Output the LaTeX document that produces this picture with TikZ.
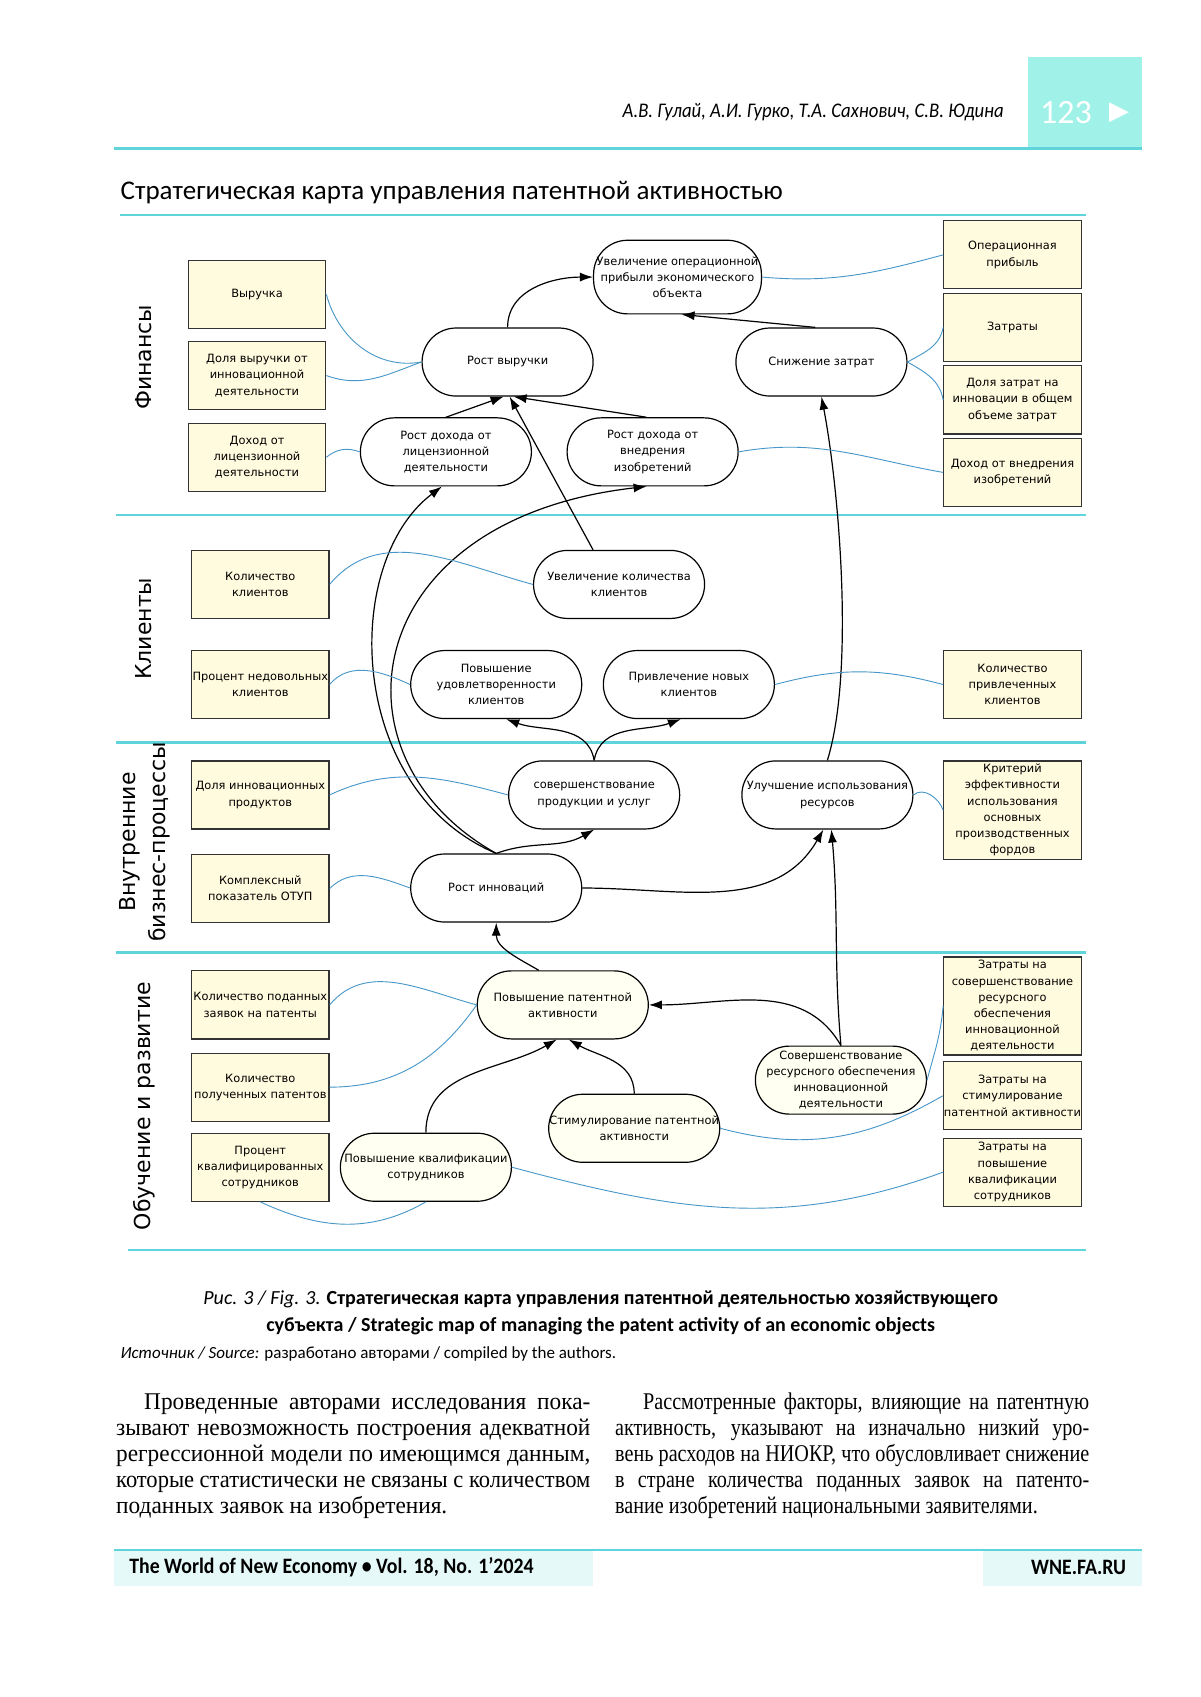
\documentclass[tikz,border=0pt]{standalone}
\usepackage{fontspec}
\usepackage{graphicx}
\setmainfont{Liberation Serif}
\newfontfamily\dejavu{DejaVu Sans}
\newfontfamily\carlito{Carlito}
\newfontfamily\carlitonarrow{Carlito}[FakeStretch=0.9]
\newfontfamily\bodyserif{Liberation Serif}[FakeStretch=0.84]
\newfontfamily\bodyserifwide{Liberation Serif}[FakeStretch=0.97]
\usepackage{tikz}
\usetikzlibrary{arrows.meta}
\definecolor{MapTeal}{RGB}{95,212,218}
\definecolor{MapTab}{RGB}{160,242,232}
\definecolor{MapFoot}{RGB}{229,250,248}
\definecolor{MapKpi}{RGB}{255,251,222}
\definecolor{MapLink}{RGB}{70,150,200}
\definecolor{MapGoal}{RGB}{255,255,242}
\newlength{\colw}
\setlength{\colw}{237pt}
\newlength{\jlw}
\newcommand{\jline}[1]{\settowidth{\jlw}{#1}%
  \ifdim\jlw>\colw\resizebox{\colw}{\height}{#1}\else\makebox[\colw][s]{#1}\fi}

\begin{document}
\begin{tikzpicture}[x=0.541pt,y=-0.541pt,
  kpi/.style={draw=black!80,fill=MapKpi,line width=0.6pt,minimum width=68.7pt,minimum height=34pt,
    inner sep=0.3pt,align=center,font=\dejavu\fontsize{5.7}{8.1}\selectfont},
  goal/.style={draw=black,fill=white,line width=0.6pt,rounded corners=17pt,minimum width=85.5pt,
    minimum height=34pt,inner sep=0.3pt,align=center,font=\dejavu\fontsize{5.7}{8.1}\selectfont},
  lgoal/.style={goal,fill=MapGoal},
  link/.style={-{Latex[length=6.5pt,width=4.5pt]},line width=0.6pt},
  kpilink/.style={MapLink,line width=0.45pt},
  band/.style={MapTeal,line width=1.3pt},
  lane/.style={rotate=90,align=center,font=\dejavu\fontsize{11}{15}\selectfont}]
  \useasboundingbox (0,0) rectangle (1109,1568);
  \fill[white] (0,0) rectangle (1109,1568);

  % page head
  \fill[MapTab] (950,53) rectangle (1055,137);
  \draw[MapTeal,line width=1.6pt] (105,137) -- (1055,137);
  \node[anchor=east,font=\carlitonarrow\itshape\fontsize{10.4}{12}\selectfont] (authors) at (934,104)
    {А.В. Гулай, А.И. Гурко, Т.А. Сахнович, С.В. Юдина};
  \node[text=white,font=\carlito\fontsize{17}{20}\selectfont] (pageno) at (985,104) {123};
  \node[text=white,font=\dejavu\fontsize{13}{15}\selectfont] (pagetri) at (1034,104) {▶};

  \node[anchor=west,font=\carlito\fontsize{13.5}{16}\selectfont] (title) at (105,178)
    {Стратегическая карта управления патентной активностью};
  \draw[MapTeal,line width=1.1pt] (111,199) -- (1003,199);

  % lanes
  \foreach \y in {476,686,880}{
    \draw[band] (107,\y) -- (1003,\y);
  }
  \draw[band] (118,1155) -- (1003,1155);
  \node[lane] (fin) at (133,330) {Финансы};
  \node[lane] (cli) at (133,581) {Клиенты};
  \node[lane] (proc) at (134,778) {Внутренние\\бизнес-процессы};
  \node[lane] (learn) at (133,1022) {Обучение и развитие};

  % finance
  \node[kpi] (vyr) at (237.5,272) {Выручка};
  \node[kpi] (dolvyr) at (237.5,347) {Доля выручки от\\инновационной\\деятельности};
  \node[kpi] (dohlic) at (237.5,422.5) {Доход от\\лицензионной\\деятельности};
  \node[kpi] (opprib) at (935.5,235.5) {Операционная\\прибыль};
  \node[kpi] (zatr) at (935.5,302.5) {Затраты};
  \node[kpi] (dolzatr) at (935.5,369.5) {Доля затрат на\\инновации в общем\\объеме затрат};
  \node[kpi] (dohvn) at (935.5,436.5) {Доход от внедрения\\изобретений};
  \node[goal,minimum width=83.9pt,minimum height=36.8pt] (uvop) at (626,256)
    {Увеличение операционной\\прибыли экономического\\объекта};
  \node[goal] (rostvyr) at (469,334.5) {Рост выручки};
  \node[goal] (snizh) at (759,334.5) {Снижение затрат};
  \node[goal] (rdlic) at (412,417.5) {Рост дохода от\\лицензионной\\деятельности};
  \node[goal] (rdvn) at (603,417.5) {Рост дохода от\\внедрения\\изобретений};

  % clients
  \node[kpi] (kolkl) at (240.5,540) {Количество\\клиентов};
  \node[kpi] (procnd) at (240.5,632.5) {Процент недовольных\\клиентов};
  \node[kpi] (kolpriv) at (935.5,632.5) {Количество\\привлеченных\\клиентов};
  \node[goal] (uvkl) at (572,540) {Увеличение количества\\клиентов};
  \node[goal] (povud) at (458.5,632.5) {Повышение\\удовлетворенности\\клиентов};
  \node[goal] (privl) at (636.5,632.5) {Привлечение новых\\клиентов};

  % internal processes
  \node[kpi] (dolinn) at (240.5,734.5) {Доля инновационных\\продуктов};
  \node[kpi] (kompl) at (240.5,821) {Комплексный\\показатель ОТУП};
  \node[kpi,minimum height=49pt,inner sep=0pt] (krit) at (935.5,748.5)
    {Критерий\\эффективности\\использования\\основных\\производственных\\фордов};
  \node[goal] (sovprod) at (549,734.5) {совершенствование\\продукции и услуг};
  \node[goal] (uluch) at (764.5,734.5) {Улучшение использования\\ресурсов};
  \node[goal] (rostinn) at (458.5,820.5) {Рост инноваций};

  % learning
  \node[kpi] (kolpod) at (240.5,928.5) {Количество поданных\\заявок на патенты};
  \node[kpi] (kolpol) at (240.5,1004.5) {Количество\\полученных патентов};
  \node[kpi] (prockv) at (240.5,1078.5) {Процент\\квалифицированных\\сотрудников};
  \node[kpi,minimum height=49pt,inner sep=0pt] (zsov) at (935.5,929.5)
    {Затраты на\\совершенствование\\ресурсного\\обеспечения\\инновационной\\деятельности};
  \node[kpi] (zstim) at (935.5,1012.5) {Затраты на\\стимулирование\\патентной активности};
  \node[kpi] (zpov) at (935.5,1083) {Затраты на\\повышение\\квалификации\\сотрудников};
  \node[lgoal] (povpat) at (520,928.5) {Повышение патентной\\активности};
  \node[lgoal] (sovres) at (777,998) {Совершенствование\\ресурсного обеспечения\\инновационной\\деятельности};
  \node[lgoal] (stim) at (586,1042.5) {Стимулирование патентной\\активности};
  \node[lgoal] (povkv) at (393.5,1078.5) {Повышение квалификации\\сотрудников};

  % cause and effect
  \draw[link] (rostvyr.north) to[out=90,in=180] (uvop.west);
  \draw[link] ([xshift=-3pt]snizh.north) -- ([xshift=2pt]uvop.south);
  \draw[link] (rdlic.north) -- ([xshift=-2pt]rostvyr.south);
  \draw[link] ([xshift=-3pt]rdvn.north) -- ([xshift=3pt]rostvyr.south);
  \draw[link] ([xshift=-13pt]uvkl.north) -- ([xshift=1pt]rostvyr.south);
  \draw[link] (rostinn.north) .. controls (320,730) and (315,520) .. ([xshift=-2pt]rdlic.south);
  \draw[link] (rostinn.north) .. controls (300,700) and (330,480) .. ([xshift=-3pt]rdvn.south);
  \draw[link] (uluch.north) .. controls (790,620) and (775,450) .. (snizh.south);
  \draw[link] (sovprod.north) to[out=100,in=-20] ([xshift=5pt]povud.south);
  \draw[link] (sovprod.north) to[out=80,in=200] ([xshift=-4pt]privl.south);
  \draw[link] (rostinn.north) to[out=20,in=210] (sovprod.south);
  \draw[link] (rostinn.east) to[out=0,in=240] ([xshift=-2pt]uluch.south);
  \draw[link] ([xshift=-12pt]povpat.north) to[out=150,in=-90] (rostinn.south);
  \draw[link] (sovres.north) to[out=95,in=-85] ([xshift=2pt]uluch.south);
  \draw[link] (sovres.north) to[out=120,in=0] (povpat.east);
  \draw[link] (povkv.north) to[out=90,in=210] ([xshift=-3pt]povpat.south);
  \draw[link] (stim.north) to[out=90,in=-30] ([xshift=3pt]povpat.south);

  % indicators
  \draw[kpilink] (vyr.east) to[out=-75,in=190] (rostvyr.west);
  \draw[kpilink] (dolvyr.east) to[out=-20,in=200] (rostvyr.west);
  \draw[kpilink] (dohlic.east) to[out=40,in=160] (rdlic.west);
  \draw[kpilink] (uvop.east) to[out=-5,in=195] (opprib.west);
  \draw[kpilink] (snizh.east) to[out=30,in=-100] (zatr.west);
  \draw[kpilink] (snizh.east) to[out=-30,in=100] (dolzatr.west);
  \draw[kpilink] (rdvn.east) to[out=10,in=170] (dohvn.west);
  \draw[kpilink] (kolkl.east) to[out=50,in=165] (uvkl.west);
  \draw[kpilink] (procnd.east) to[out=50,in=155] (povud.west);
  \draw[kpilink] (privl.east) to[out=15,in=165] (kolpriv.west);
  \draw[kpilink] (dolinn.east) to[out=25,in=165] (sovprod.west);
  \draw[kpilink] (uluch.east) to[out=40,in=110] (krit.west);
  \draw[kpilink] (kompl.east) to[out=45,in=160] (rostinn.west);
  \draw[kpilink] (kolpod.east) to[out=50,in=165] (povpat.west);
  \draw[kpilink] (kolpol.east) to[out=0,in=235] (povpat.west);
  \draw[kpilink] (prockv.south) to[out=-25,in=-150] (povkv.south);
  \draw[kpilink] (povkv.east) to[out=-15,in=200] (zpov.west);
  \draw[kpilink] (stim.east) to[out=-15,in=210] (zstim.west);
  \draw[kpilink] (sovres.east) to[out=75,in=-95] (zsov.west);

  % caption
  \node[align=center,font=\carlito\fontsize{10}{13.5}\selectfont] (caption) at (555,1213)
    {{\itshape Рис. 3 / Fig. 3.} \textbf{Стратегическая карта управления патентной деятельностью хозяйствующего}\\
     \textbf{субъекта / Strategic map of managing the patent activity of an economic objects}};
  \node[anchor=west,font=\carlito\fontsize{8.5}{10}\selectfont] (source) at (105,1251)
    {{\itshape Источник / Source:} разработано авторами / compiled by the authors.};

  % body text
  \node[anchor=north west,inner sep=0pt,align=left,font=\bodyserifwide\fontsize{12}{13}\selectfont] (colleft) at (107,1287)
    {\jline{\hspace*{14pt}Проведенные авторами исследования пока-}\\
     \jline{зывают невозможность построения адекватной}\\
     \jline{регрессионной модели по имеющимся данным,}\\
     \jline{которые статистически не связаны с количеством}\\
     поданных заявок на изобретения.};
  \node[anchor=north west,inner sep=0pt,align=left,font=\bodyserif\fontsize{12}{13}\selectfont] (colright) at (568,1287)
    {\jline{\hspace*{14pt}Рассмотренные факторы, влияющие на патентную}\\
     \jline{активность, указывают на изначально низкий уро-}\\
     \jline{вень расходов на НИОКР, что обусловливает снижение}\\
     \jline{в стране количества поданных заявок на патенто-}\\
     вание изобретений национальными заявителями.};

  % page foot
  \fill[MapFoot] (105,1433) rectangle (548,1465);
  \fill[MapFoot] (908,1433) rectangle (1055,1465);
  \draw[MapTeal,line width=1.3pt] (105,1432) -- (1055,1432);
  \node[anchor=west,font=\carlitonarrow\bfseries\fontsize{11}{13}\selectfont] (journal) at (113,1448)
    {The World of New Economy • Vol. 18, No. 1’2024};
  \node[anchor=east,font=\carlitonarrow\bfseries\fontsize{11}{13}\selectfont] (site) at (1047,1448) {WNE.FA.RU};
\end{tikzpicture}
\end{document}
